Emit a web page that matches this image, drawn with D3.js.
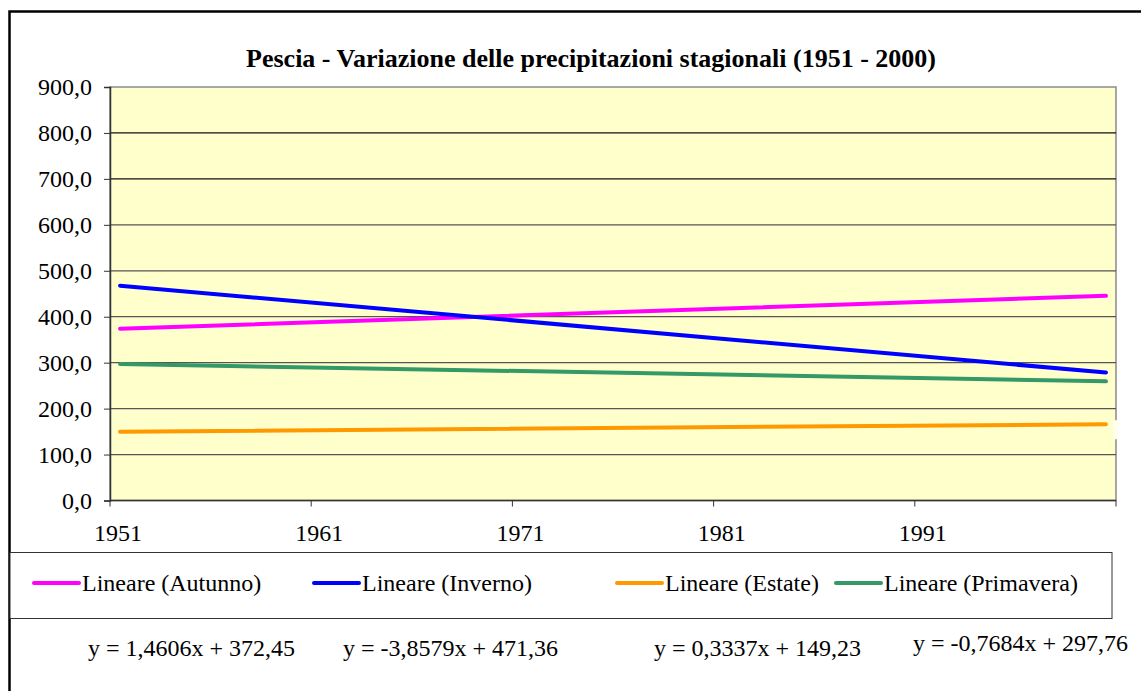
<!DOCTYPE html>
<html>
<head>
<meta charset="utf-8">
<script src="https://cdn.jsdelivr.net/npm/d3@7"></script>
<style>
  body { margin: 0; background: #fff; }
  text { font-family: "Liberation Serif", "Times New Roman", serif; fill: #000; }
</style>
</head>
<body>
<div id="chart"></div>
<script>
const width = 1141;
const height = 691;

// data
const seriesNames = ["Autunno", "Inverno", "Estate", "Primavera"];
const seriesColors = ["#FF00FF", "#0000FF", "#FF9900", "#339966"];
const startValues = [373.9, 467.5, 149.6, 297.0]; // trend value in 1951
const endValues = [445.5, 278.5, 166.0, 259.3]; // trend value in 2000
const firstYear = 1951;
const lastYear = 2000;
const xTickLabels = ["1951", "1961", "1971", "1981", "1991"];
const yTicks = [0, 100, 200, 300, 400, 500, 600, 700, 800, 900];
const equations = [
  "y = 1,4606x + 372,45",
  "y = -3,8579x + 471,36",
  "y = 0,3337x + 149,23",
  "y = -0,7684x + 297,76",
];

const plot = { left: 110, top: 87, right: 1116, bottom: 500.5 };
const fontSize = "24px";

const svg = d3
  .select("#chart")
  .append("svg")
  .attr("width", width)
  .attr("height", height);

// outer frame (runs off the page on the right and bottom)
svg
  .append("rect")
  .attr("x", 9.5)
  .attr("y", 11.5)
  .attr("width", 1200)
  .attr("height", 800)
  .attr("fill", "#fff")
  .attr("stroke", "#000")
  .attr("stroke-width", 2.5);

svg
  .append("text")
  .attr("x", 591)
  .attr("y", 67)
  .attr("text-anchor", "middle")
  .attr("font-weight", "bold")
  .attr("font-size", "26px")
  .text("Pescia - Variazione delle precipitazioni stagionali (1951 - 2000)");

const years = [];
for (let y = firstYear; y <= lastYear; y++) years.push(String(y));

const x = d3
  .scaleBand()
  .domain(years)
  .range([plot.left, plot.right]);

const y = d3.scaleLinear().domain([0, 900]).range([plot.bottom, plot.top]);

svg
  .append("rect")
  .attr("x", plot.left)
  .attr("y", plot.top)
  .attr("width", plot.right - plot.left)
  .attr("height", plot.bottom - plot.top)
  .attr("fill", "#FFFFCC")
  .attr("stroke", "#8a8a8a")
  .attr("stroke-width", 1.5);

// gridlines
svg
  .append("g")
  .selectAll("line")
  .data(yTicks.filter((d) => d > 0 && d < 900))
  .enter()
  .append("line")
  .attr("x1", plot.left)
  .attr("x2", plot.right)
  .attr("y1", (d) => y(d))
  .attr("y2", (d) => y(d))
  .attr("stroke", (d) => (d >= 700 ? "#111" : "#555"))
  .attr("stroke-width", 1.2);

const fmt = (d) => d3.format(".1f")(d).replace(".", ",");

const yAxis = d3
  .axisLeft(y)
  .tickValues(yTicks)
  .tickSize(6)
  .tickPadding(12)
  .tickFormat(fmt);

svg
  .append("g")
  .attr("transform", `translate(${plot.left},0)`)
  .call(yAxis)
  .call((g) => g.select(".domain").attr("stroke", "#333").attr("stroke-width", 1.5))
  .call((g) => g.selectAll(".tick line").attr("stroke", "#333"))
  .call((g) =>
    g.selectAll(".tick text").attr("font-size", fontSize).attr("font-family", "Liberation Serif").attr("fill", "#000")
  );

// x axis: tick marks between categories every 10 years, labels centred on the category
const xAxis = svg.append("g");
xAxis
  .append("line")
  .attr("x1", plot.left)
  .attr("x2", plot.right)
  .attr("y1", plot.bottom)
  .attr("y2", plot.bottom)
  .attr("stroke", "#333")
  .attr("stroke-width", 1.5);

const tickEdges = xTickLabels.map((d) => x(d)).concat([x(String(lastYear)) + x.bandwidth()]);
xAxis
  .selectAll(".xt")
  .data(tickEdges)
  .enter()
  .append("line")
  .attr("class", "xt")
  .attr("x1", (d) => d)
  .attr("x2", (d) => d)
  .attr("y1", plot.bottom)
  .attr("y2", plot.bottom + 6)
  .attr("stroke", "#333");

xAxis
  .selectAll("text")
  .data(xTickLabels)
  .enter()
  .append("text")
  .attr("x", (d) => x(d) + x.bandwidth() / 2 - 2)
  .attr("y", 541)
  .attr("text-anchor", "middle")
  .attr("font-size", fontSize)
  .text((d) => d);

// trend lines
const trends = seriesNames.map((name, i) => ({
  name,
  color: seriesColors[i],
  points: [
    [String(firstYear), startValues[i]],
    [String(lastYear), endValues[i]],
  ],
}));

const line = d3
  .line()
  .x((d) => x(d[0]) + x.bandwidth() / 2)
  .y((d) => y(d[1]));

svg
  .append("g")
  .selectAll("path")
  .data(trends)
  .enter()
  .append("path")
  .attr("d", (d) => line(d.points))
  .attr("fill", "none")
  .attr("stroke", (d) => d.color)
  .attr("stroke-width", 4)
  .attr("stroke-linecap", "round");

// small light patch at the end of the summer line
svg
  .append("rect")
  .attr("x", plot.right - 3)
  .attr("y", y(endValues[2]) - 4)
  .attr("width", 6)
  .attr("height", 19)
  .attr("fill", "#FFFFF0");

// legend
svg
  .append("rect")
  .attr("x", 10)
  .attr("y", 552.5)
  .attr("width", 1102)
  .attr("height", 66)
  .attr("fill", "#fff")
  .attr("stroke", "#333")
  .attr("stroke-width", 1);

const legendX = [34, 314, 617, 836];
const legend = svg
  .append("g")
  .selectAll("g")
  .data(trends)
  .enter()
  .append("g")
  .attr("transform", (d, i) => `translate(${legendX[i]},583)`);

legend
  .append("line")
  .attr("x1", 0)
  .attr("x2", 45)
  .attr("stroke", (d) => d.color)
  .attr("stroke-width", 4)
  .attr("stroke-linecap", "round");

legend
  .append("text")
  .attr("x", 48)
  .attr("y", 8)
  .attr("font-size", fontSize)
  .text((d) => `Lineare (${d.name})`);

// trend equations
const eqX = [88, 343, 654, 913];
const eqY = [656, 656, 656, 651];
svg
  .append("g")
  .selectAll("text")
  .data(equations)
  .enter()
  .append("text")
  .attr("x", (d, i) => eqX[i])
  .attr("y", (d, i) => eqY[i])
  .attr("font-size", fontSize)
  .text((d) => d);
</script>
</body>
</html>
